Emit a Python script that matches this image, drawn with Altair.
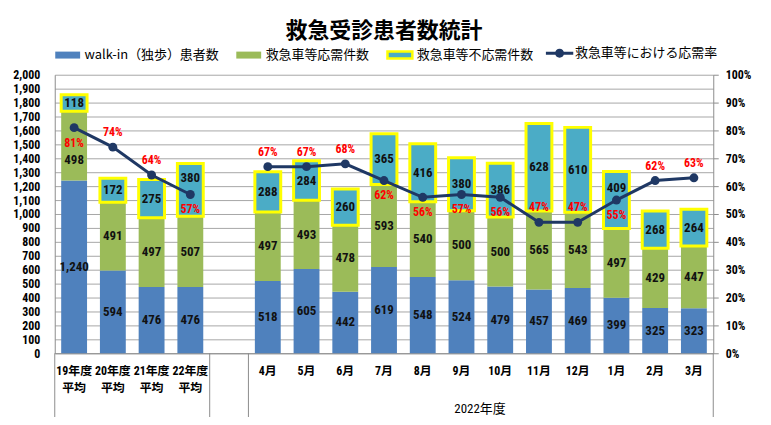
import altair as alt
import pandas as pd

categories = ["19年度|平均", "20年度|平均", "21年度|平均", "22年度|平均", " ",
              "4月", "5月", "6月", "7月", "8月", "9月", "10月", "11月", "12月", "1月", "2月", "3月"]
walkin = [1240, 594, 476, 476, None, 518, 605, 442, 619, 548, 524, 479, 457, 469, 399, 325, 323]
accepted = [498, 491, 497, 507, None, 497, 493, 478, 593, 540, 500, 500, 565, 543, 497, 429, 447]
declined = [118, 172, 275, 380, None, 288, 284, 260, 365, 416, 380, 386, 628, 610, 409, 268, 264]
rate_pct = [81, 74, 64, 57, None, 67, 67, 68, 62, 56, 57, 56, 47, 47, 55, 62, 63]
rate_label_side = ["below", "above", "above", "below", None, "above", "above", "above",
                   "below", "below", "below", "below", "above", "above", "below", "above", "above"]
line_group = ["avg", "avg", "avg", "avg", None] + ["month"] * 12

bar_series = ["walk-in（独歩）患者数", "救急車等応需件数", "救急車等不応需件数"]
bar_colors = ["#4f81bd", "#9bbb59", "#4bacc6"]
bar_borders = ["transparent", "transparent", "#ffff00"]
line_series = ["救急車等における応需率"]
line_colors = ["#1f3864"]

NUM_FONT = "Roboto Condensed, Liberation Sans Narrow, Roboto, sans-serif"
JP_FONT = "Noto Sans CJK JP"
MIX_FONT = "Roboto Condensed, Liberation Sans Narrow, Roboto, Noto Sans CJK JP, sans-serif"

bar_rows = []
for i, c in enumerate(categories):
    for j, vals in enumerate([walkin, accepted, declined]):
        if vals[i] is not None:
            bar_rows.append({"cat": c, "series": bar_series[j], "value": vals[i], "order": j})
bars_df = pd.DataFrame(bar_rows)

line_rows = []
for i, c in enumerate(categories):
    if rate_pct[i] is not None:
        line_rows.append({"cat": c, "rate": rate_pct[i] / 100, "grp": line_group[i],
                          "side": rate_label_side[i], "lseries": line_series[0]})
line_df = pd.DataFrame(line_rows)

sep_left_df = pd.DataFrame({"cat": [categories[0], categories[4], categories[5]]})
sep_right_df = pd.DataFrame({"cat": [categories[-1]]})

x_axis = alt.Axis(
    title="2022年度", titleX=427, titleY=56, titleBaseline="middle", titleFont=MIX_FONT,
    titleFontSize=13, titleFontWeight="normal", titleColor="#000",
    labelExpr="split(datum.label, '|')", labelAngle=0, labelFont=MIX_FONT, labelFontSize=12,
    labelFontWeight="bold", labelColor="#000", labelPadding=12, labelLineHeight=17,
    labelBaseline="top", labelOverlap=False, labelLimit=0,
    ticks=False, tickSize=0, domainColor="#8c8c8c", domainWidth=1, grid=False,
)
x_scale = alt.Scale(domain=categories, paddingInner=0, paddingOuter=0)


def X(band=None):
    if band is None:
        return alt.X("cat:N", scale=x_scale, axis=x_axis, sort=categories)
    return alt.X("cat:N", scale=x_scale, axis=x_axis, sort=categories, bandPosition=band)


left_axis = alt.Axis(
    values=list(range(0, 2001, 100)), format=",.0f", grid=True, gridColor="#a6a6a6", gridWidth=1,
    ticks=False, tickSize=0, labelPadding=15, labelFont=NUM_FONT, labelFontSize=12,
    labelFontWeight="bold", labelColor="#000", domainColor="#8c8c8c", title=None,
)
left_scale = alt.Scale(domain=[0, 2000], nice=False)

right_axis = alt.Axis(
    orient="right", values=[i / 10 for i in range(11)], format=".0%", grid=False,
    ticks=True, tickSize=5, tickColor="#8c8c8c", labelPadding=7, labelFont=NUM_FONT,
    labelFontSize=12, labelFontWeight="bold", labelColor="#000", domainColor="#8c8c8c", title=None,
)
right_scale = alt.Scale(domain=[0, 1], nice=False)

bar_legend = alt.Legend(
    orient="none", legendX=-1, legendY=-34, direction="horizontal", title=None, padding=0,
    labelFont=JP_FONT, labelFontSize=13, labelColor="#000", symbolSize=625, labelOffset=3,
    columnPadding=12, symbolType="M-1,-0.28H1V0.28H-1Z", symbolStrokeWidth=2.5,
    symbolOpacity=1,
)
line_legend = alt.Legend(
    orient="none", legendX=495, legendY=-34, direction="horizontal", title=None, padding=0,
    labelFont=JP_FONT, labelFontSize=13, labelColor="#000", symbolSize=625, labelOffset=3,
    symbolType="M-1.1,-0.12H1.1V0.12H-1.1Z M0,-0.36A0.36,0.36 0 1,1 0,0.36A0.36,0.36 0 1,1 0,-0.36Z",
    symbolFillColor=line_colors[0], symbolStrokeWidth=0, symbolOpacity=1,
)

base = alt.Chart(bars_df).transform_stack(
    stack="value", as_=["y0", "y1"], groupby=["cat"], sort=[alt.SortField("order", order="ascending")]
).transform_calculate(mid="(datum.y0 + datum.y1) / 2")

bars = base.mark_bar(width=26, strokeWidth=3).encode(
    x=X(),
    y=alt.Y("y0:Q", scale=left_scale, axis=left_axis),
    y2="y1:Q",
    fill=alt.Fill("series:N", scale=alt.Scale(domain=bar_series, range=bar_colors), legend=bar_legend),
    stroke=alt.Stroke("series:N", scale=alt.Scale(domain=bar_series, range=bar_borders), legend=bar_legend),
)

# a few value labels sit off-centre in the reference, clear of the rate labels
nudge_down = "(datum.cat === '19年度|平均' && datum.series === '救急車等応需件数')"
nudge_up = ("((datum.cat === '22年度|平均' || datum.cat === '1月') "
            "&& datum.series === '救急車等不応需件数')")


def bar_labels(filter_expr, dy):
    return base.transform_filter(filter_expr).mark_text(
        font=NUM_FONT, fontSize=13, fontWeight="bold", color="#111111", dy=dy
    ).encode(
        x=X(),
        y=alt.Y("mid:Q", scale=left_scale, axis=left_axis),
        text=alt.Text("value:Q", format=","),
    )


bar_text = bar_labels("!(" + nudge_down + " || " + nudge_up + ")", 0)
bar_text_down = bar_labels(nudge_down, 14)
bar_text_up = bar_labels(nudge_up, -12)

sep_l = alt.Chart(sep_left_df).mark_rule(color="#8c8c8c", strokeWidth=1).encode(
    x=X(0), y=alt.value(280), y2=alt.value(351)
)
sep_r = alt.Chart(sep_right_df).mark_rule(color="#8c8c8c", strokeWidth=1).encode(
    x=X(1), y=alt.value(280), y2=alt.value(351)
)
left_layer = alt.layer(bars, bar_text, bar_text_down, bar_text_up, sep_l, sep_r)

line = alt.Chart(line_df).mark_line(
    strokeWidth=3, point=alt.OverlayMarkDef(filled=True, size=80)
).encode(
    x=X(),
    y=alt.Y("rate:Q", scale=right_scale, axis=right_axis),
    detail="grp:N",
    color=alt.Color("lseries:N", scale=alt.Scale(domain=line_series, range=line_colors), legend=line_legend),
)
pct_above = alt.Chart(line_df).transform_filter("datum.side === 'above'").mark_text(
    dy=-15, font=NUM_FONT, fontSize=12, fontWeight="bold", color="#ff0000"
).encode(x=X(), y=alt.Y("rate:Q", scale=right_scale, axis=right_axis),
         text=alt.Text("rate:Q", format=".0%"))
pct_below = alt.Chart(line_df).transform_filter("datum.side === 'below'").mark_text(
    dy=15, font=NUM_FONT, fontSize=12, fontWeight="bold", color="#ff0000"
).encode(x=X(), y=alt.Y("rate:Q", scale=right_scale, axis=right_axis),
         text=alt.Text("rate:Q", format=".0%"))
right_layer = alt.layer(line, pct_above, pct_below)

chart = alt.layer(left_layer, right_layer).resolve_scale(y="independent").properties(
    width=662, height=280,
    title=alt.Title("救急受診患者数統計", font=JP_FONT, fontSize=22, fontWeight="bold",
                    color="#000", anchor="middle", dy=6),
    autosize=alt.AutoSizeParams(type="none"),
    padding={"left": 47, "top": 66, "right": 50, "bottom": 63},
    background="white",
).configure_view(strokeWidth=0)

chart.save("out.html", embed_options={"renderer": "svg", "actions": False})
